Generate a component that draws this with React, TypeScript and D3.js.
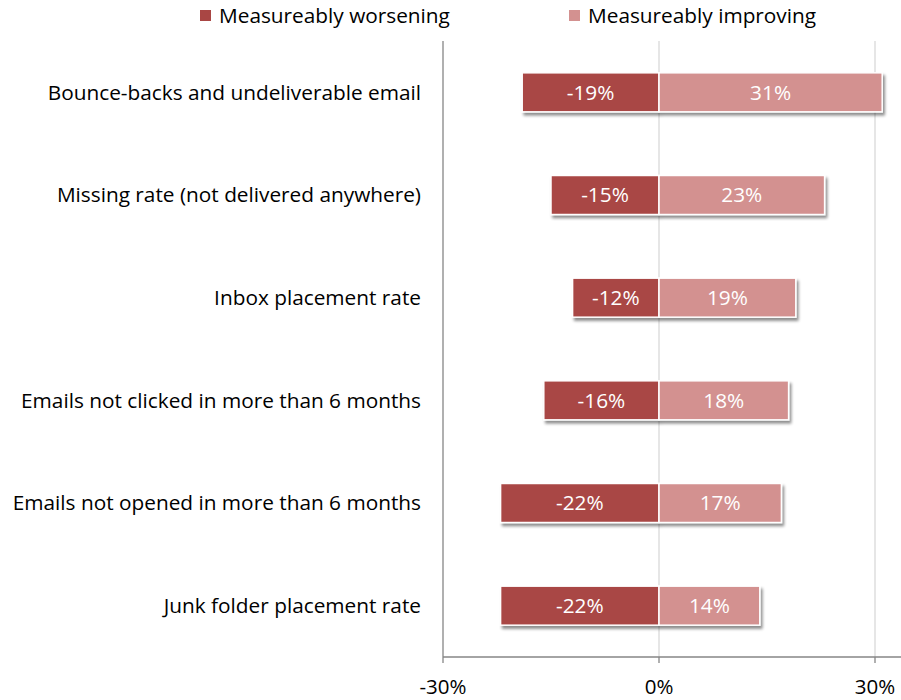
import React from "react";
import * as d3 from "d3";

const categories = [
  "Bounce-backs and undeliverable email",
  "Missing rate (not delivered anywhere)",
  "Inbox placement rate",
  "Emails not clicked in more than 6 months",
  "Emails not opened in more than 6 months",
  "Junk folder placement rate",
];
const worsening = [-19, -15, -12, -16, -22, -22];
const improving = [31, 23, 19, 18, 17, 14];
const xTicks = [-30, 0, 30];
const seriesNames = ["Measureably worsening", "Measureably improving"];
const seriesColors = ["#A94644", "#D39190"];

const W = 901;
const H = 700;
const FONT = "'Open Sans', Lato, sans-serif";

export default function App() {
  const x = d3.scaleLinear().domain([-30, 30]).range([443, 875]);
  const y = d3.scaleBand().domain(categories).range([41, 657]).paddingInner(0.62).paddingOuter(0.31);
  const plotTop = 41;
  const axisY = 657;
  const bh = y.bandwidth();
  const fmt = (v: number) => `${v}%`;
  const legendX = [200, 569];

  return (
    <svg width={W} height={H} style={{ position: "absolute", left: 0, top: 0, background: "#fff" }} fontFamily={FONT}>
      <defs>
        <filter id="sh" x="-10%" y="-30%" width="120%" height="170%">
          <feGaussianBlur in="SourceAlpha" stdDeviation="1.6" />
          <feOffset dx="1.5" dy="2.5" result="b" />
          <feComponentTransfer>
            <feFuncA type="linear" slope="0.45" />
          </feComponentTransfer>
          <feMerge>
            <feMergeNode />
            <feMergeNode in="SourceGraphic" />
          </feMerge>
        </filter>
      </defs>
      <rect x={0} y={0} width={W} height={H} fill="#fff" />
      {/* legend */}
      {seriesNames.map((n, i) => {
        const lx = legendX[i];
        return (
          <g key={n}>
            <rect x={lx} y={10} width={11} height={11} fill={seriesColors[i]} />
            <text x={lx + 19} y={23} fontSize={20.8} fill="#000">{n}</text>
          </g>
        );
      })}
      {/* gridlines */}
      {xTicks.filter((t) => t !== -30).map((t) => (
        <line key={t} x1={x(t)} x2={x(t)} y1={plotTop} y2={axisY} stroke="#D9D9D9" strokeWidth={1.3} />
      ))}
      {/* bars */}
      {categories.map((c, i) => {
        const yy = y(c)!;
        return (
          <g key={c} filter="url(#sh)">
            <rect x={x(worsening[i])} y={yy} width={x(0) - x(worsening[i])} height={bh} fill={seriesColors[0]} stroke="#fff" strokeWidth={1.5} />
            <rect x={x(0)} y={yy} width={x(improving[i]) - x(0)} height={bh} fill={seriesColors[1]} stroke="#fff" strokeWidth={1.5} />
          </g>
        );
      })}
      {categories.map((c, i) => {
        const cy = y(c)! + bh / 2;
        return (
          <g key={c + "l"} fontSize={20.8} fill="#fff" textAnchor="middle">
            <text x={(x(worsening[i]) + x(0)) / 2} y={cy} dy="0.36em">{fmt(worsening[i])}</text>
            <text x={(x(improving[i]) + x(0)) / 2} y={cy} dy="0.36em">{fmt(improving[i])}</text>
          </g>
        );
      })}
      {/* category labels */}
      {categories.map((c) => (
        <text key={c + "c"} x={421} y={y(c)! + bh / 2} dy="0.36em" textAnchor="end" fontSize={20.8} fill="#000">{c}</text>
      ))}
      {/* axes */}
      <line x1={x(-30)} x2={x(-30)} y1={plotTop} y2={axisY} stroke="#868686" strokeWidth={1.3} />
      <line x1={x(-30)} x2={W} y1={axisY} y2={axisY} stroke="#868686" strokeWidth={1.3} />
      {xTicks.map((t) => (
        <g key={"t" + t}>
          <line x1={x(t)} x2={x(t)} y1={axisY} y2={axisY + 6} stroke="#868686" strokeWidth={1.3} />
          <text x={x(t)} y={694} textAnchor="middle" fontSize={20.5} fill="#000">{fmt(t)}</text>
        </g>
      ))}
    </svg>
  );
}
